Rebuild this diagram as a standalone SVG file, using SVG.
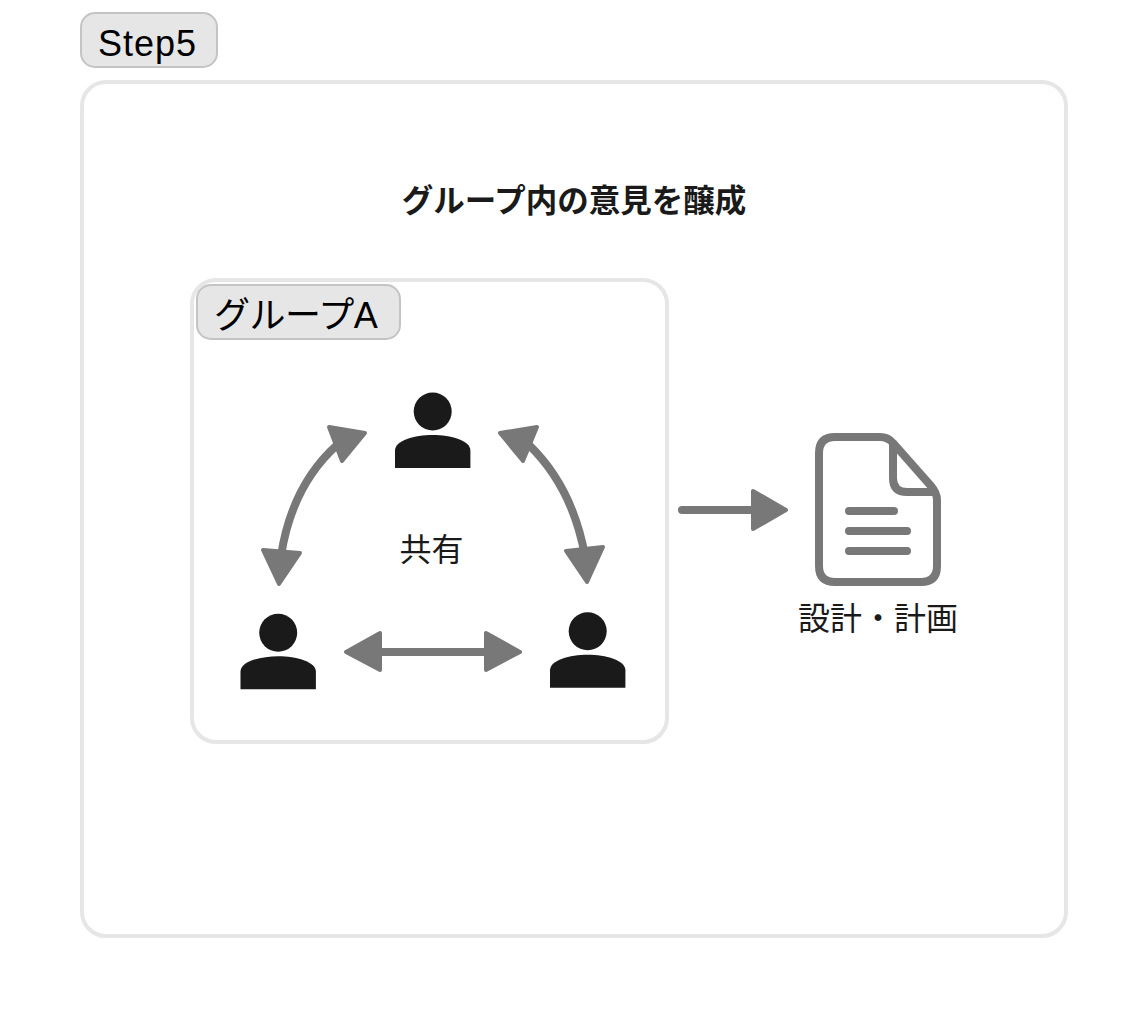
<svg xmlns="http://www.w3.org/2000/svg" width="1148" height="1019" viewBox="0 0 1148 1019">
<style>
text{font-family:"Liberation Sans","Noto Sans CJK JP",sans-serif;fill:#1a1a1a}
.frame{fill:#fff;stroke:#e6e6e6;stroke-width:4}
.tag{fill:#e6e6e6;stroke:#c4c4c4;stroke-width:2}
.tagt{font-size:36px;fill:#000}
.lab{font-size:32px;text-anchor:middle}
.line{fill:none;stroke:#787878;stroke-width:8}
.head{fill:#787878;stroke:#787878;stroke-width:4;stroke-linejoin:round}
.person{fill:#1a1a1a}
</style>
<defs>
<g id="person" class="person">
<circle cx="0" cy="19" r="19"/>
<path d="M-37.700 75.500V58C-37.700 48-18 42.500 0 42.500S37.700 48 37.700 58V75.500Z"/>
</g>
</defs>
<g id="step-panel"><rect class="frame" x="82" y="82" width="984" height="854" rx="24"/></g>
<g id="step-tag"><rect class="tag" x="81" y="13" width="136" height="54" rx="14"/><text class="tagt" x="98" y="56" letter-spacing="1">Step5</text></g>
<g id="title"><text x="574" y="212" font-size="31.500" font-weight="700" text-anchor="middle">グループ内の意見を醸成</text></g>
<g id="group-a"><rect class="frame" x="192" y="280" width="475" height="462" rx="24"/></g>
<g id="group-tag"><rect class="tag" x="197" y="285" width="203" height="54" rx="14"/><text class="tagt" x="214" y="328" letter-spacing="-0.500">グループA</text></g>
<g id="person-top"><use href="#person" x="432.700" y="392.500"/></g>
<g id="person-left"><use href="#person" x="278.200" y="613.700"/></g>
<g id="person-right"><use href="#person" x="587.700" y="612.200"/></g>
<g id="share"><text class="lab" x="431.500" y="561">共有</text></g>
<g id="document">
<path d="M835 437H880Q888 437 893 443L931 486Q937 493 937 500V566Q937 582 921 582H835Q819 582 819 566V453Q819 437 835 437Z" fill="#fff" stroke="#787878" stroke-width="8"/>
<path d="M893 441V478Q893 492 907 492H937" fill="none" stroke="#787878" stroke-width="8"/>
<path d="M849 511H894M849 531H907M849 551H907" fill="none" stroke="#787878" stroke-width="8" stroke-linecap="round"/>
<text class="lab" x="878" y="630">設計・計画</text>
</g>
<g id="connectors">
<path class="line" d="M337 445C307 472 288 510 281 556"/>
<polygon class="head" points="329,427 365,433 342,461"/>
<polygon class="head" points="263,550 300,553 279,584"/>
<path class="line" d="M529 445C559 474 577 512 585 556"/>
<polygon class="head" points="537,427 500,433 523,461"/>
<polygon class="head" points="566,551 603,547 587,582"/>
<path class="line" d="M375 652H490"/>
<polygon class="head" points="346,652 380,633 380,670"/>
<polygon class="head" points="520,652 486,633 486,670"/>
<path class="line" d="M682 510H760" stroke-linecap="round"/>
<polygon class="head" points="786,510 753,491 753,529"/>
</g>
</svg>
